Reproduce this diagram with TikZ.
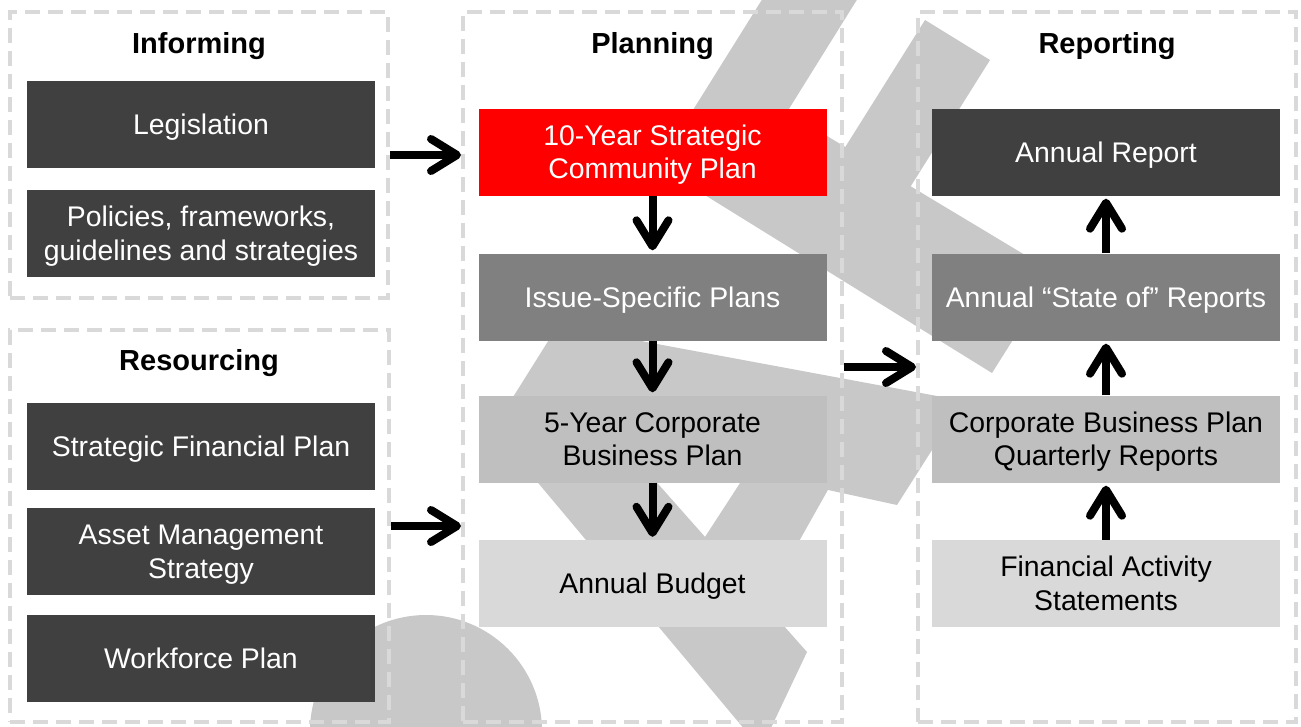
\documentclass[tikz,border=0pt]{standalone}
\usepackage{fontspec}
\setmainfont{Liberation Sans}
\usetikzlibrary{arrows.meta}
\definecolor{boxdark}{HTML}{404040}
\definecolor{boxmid}{HTML}{808080}
\definecolor{boxlight}{HTML}{BFBFBF}
\definecolor{boxpale}{HTML}{D9D9D9}
\definecolor{boxred}{HTML}{FF0000}
\definecolor{logogray}{HTML}{C8C8C8}
\definecolor{framegray}{HTML}{D9D9D9}
\tikzset{
	frame/.style={draw=framegray, line width=4pt, dash pattern=on 15pt off 8pt, inner sep=0pt},
	title/.style={anchor=base, font=\fontsize{29pt}{33pt}\selectfont\bfseries},
	box/.style={minimum width=348pt, minimum height=87pt, inner sep=0pt, align=center, text height=20.3pt, text depth=0pt, font=\fontsize{28.4pt}{33.5pt}\selectfont},
	twolines/.style={text height=53.8pt},
	darkbox/.style={box, fill=boxdark, text=white},
	redbox/.style={box, fill=boxred, text=white},
	midbox/.style={box, fill=boxmid, text=white},
	lightbox/.style={box, fill=boxlight, text=black},
	palebox/.style={box, fill=boxpale, text=black},
	flow/.style={line width=8pt, -{Straight Barb[length=26pt, width=32pt, round]}},
	logo/.style={fill=logogray}
}
\begin{document}
\begin{tikzpicture}[x=1pt,y=-1pt]
			%%%%% START %%%%%
			\useasboundingbox (0,0) rectangle (1301,726);
			\fill[white] (0,0) rectangle (1301,726);
			
			% logo in the background
			\begin{scope}
			\clip (0,0) rectangle (1301,726);
			\fill[logo] (768,-10) -- (863,-10) -- (787,112) -- (1055,273) -- (992,373) -- (658,166) -- cycle;
			\fill[logo] (925,20) -- (990,60) -- (877,240) -- (812,200) -- cycle;
			\fill[logo] (599,260) -- (694,260) -- (597,415) -- (807,652) -- (761,749) -- (493,429) -- cycle;
			\fill[logo] (560,326) -- (964,401) -- (932,450) -- (897,505) -- (842,493) -- (560,432) -- cycle;
			\fill[logo] (768,440) -- (856,440) -- (766,600) -- (664,600) -- cycle;
			\fill[logo] (426,731) circle (116pt);
			\end{scope}
			
			% dashed groups
			\node[frame, minimum width=378, minimum height=286] (informing) at (199,155) {};
			\node[frame, minimum width=379, minimum height=392] (resourcing) at (199.5,526) {};
			\node[frame, minimum width=379, minimum height=710] (planning) at (652.5,367) {};
			\node[frame, minimum width=378, minimum height=710] (reporting) at (1107,367) {};
			
			\node[title] (tinform) at (199,53) {Informing};
			\node[title] (tresource) at (199,370) {Resourcing};
			\node[title] (tplan) at (652.5,53) {Planning};
			\node[title] (treport) at (1107,53) {Reporting};
			
			% informing and resourcing
			\node[darkbox] (legis) at (201,124.5) {Legislation};
			\node[darkbox, twolines] (policies) at (201,233.5) {Policies, frameworks,\\guidelines and strategies};
			\node[darkbox] (sfp) at (201,446.5) {Strategic Financial Plan};
			\node[darkbox, twolines] (ams) at (201,551.5) {Asset Management\\Strategy};
			\node[darkbox] (workforce) at (201,658.5) {Workforce Plan};
			
			% planning
			\node[redbox, twolines] (scp) at (652.5,152) {10-Year Strategic\\Community Plan};
			\node[midbox] (issue) at (652.5,297) {Issue-Specific Plans};
			\node[lightbox, twolines] (cbp) at (652.5,439) {5-Year Corporate\\Business Plan};
			\node[palebox] (budget) at (652.5,583.5) {Annual Budget};
			
			% reporting
			\node[darkbox] (annrep) at (1106,152) {Annual Report};
			\node[midbox] (stateof) at (1106,297) {Annual ``State of'' Reports};
			\node[lightbox, twolines] (qrep) at (1106,439) {Corporate Business Plan\\Quarterly Reports};
			\node[palebox, twolines] (fas) at (1106,583.5) {Financial Activity\\Statements};
			
			% arrows
			\draw[flow] (informing.east) -- (informing.east -| planning.west);
			\draw[flow] (resourcing.east) -- (resourcing.east -| planning.west);
			\draw[flow] (planning) -- (reporting);
			
			\draw[flow, shorten >=3pt] (scp) -- (issue);
			\draw[flow, shorten >=3pt] (issue) -- (cbp);
			\draw[flow, shorten >=3pt] (cbp) -- (budget);
			
			\draw[flow, shorten >=3pt] (stateof) -- (annrep);
			\draw[flow, shorten >=3pt] (qrep) -- (stateof);
			\draw[flow, shorten >=3pt] (fas) -- (qrep);
			%%%%% END %%%%%
\end{tikzpicture}
\end{document}
